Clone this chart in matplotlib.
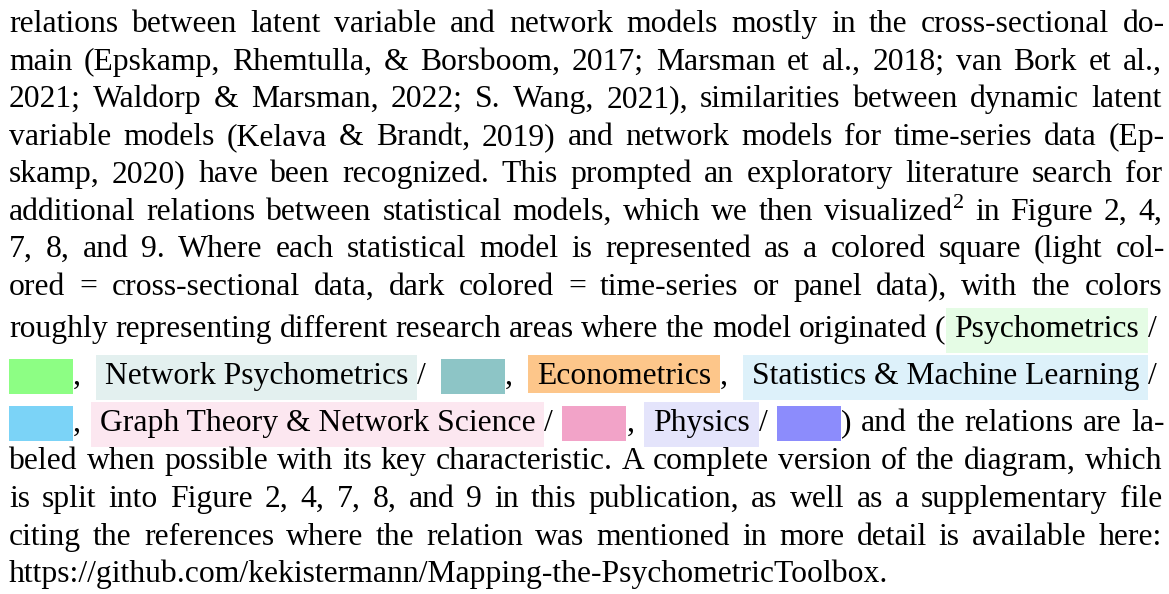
import re
import matplotlib
matplotlib.use("Agg")
import matplotlib.pyplot as plt
from matplotlib.patches import Rectangle

# --- content -------------------------------------------------------------
# {key|label} = highlighted label, {#key} = dark colour square, {^2} = superscript
LINES = [
    "relations between latent variable and network models mostly in the cross-sectional do-",
    "main (Epskamp, Rhemtulla, & Borsboom, 2017; Marsman et al., 2018; van Bork et al.,",
    "2021; Waldorp & Marsman, 2022; S. Wang, 2021), similarities between dynamic latent",
    "variable models (Kelava & Brandt, 2019) and network models for time-series data (Ep-",
    "skamp, 2020) have been recognized. This prompted an exploratory literature search for",
    "additional relations between statistical models, which we then visualized{^2} in Figure 2, 4,",
    "7, 8, and 9. Where each statistical model is represented as a colored square (light col-",
    "ored = cross-sectional data, dark colored = time-series or panel data), with the colors",
    "roughly representing different research areas where the model originated ({psy|Psychometrics}/",
    "{#psy}, {np|Network Psychometrics}/ {#np}, {eco|Econometrics}, {stat|Statistics & Machine Learning}/",
    "{#stat}, {gt|Graph Theory & Network Science}/ {#gt}, {phys|Physics}/ {#phys}) and the relations are la-",
    "beled when possible with its key characteristic. A complete version of the diagram, which",
    "is split into Figure 2, 4, 7, 8, and 9 in this publication, as well as a supplementary file",
    "citing the references where the relation was mentioned in more detail is available here:",
    "https://github.com/kekistermann/Mapping-the-PsychometricToolbox.",
]

# light (label background) and dark (square) colours per research area
LIGHT = {"psy": "#e5fce5", "np": "#e3f0ef", "eco": "#fdc68a", "stat": "#ddf1fa",
         "gt": "#fce7f0", "phys": "#e4e4fb"}
DARK = {"psy": "#8dfe84", "np": "#8dc5c6", "stat": "#7bd3f7", "gt": "#f2a3c8",
        "phys": "#8c8cfc"}

# --- layout --------------------------------------------------------------
W, H = 1169, 594
FONT = "Liberation Serif"
SIZE = 22.8
LEFT, RIGHT = 9, 1162
BASELINES = [32, 70, 107, 145, 182, 220, 257, 295, 337, 384, 431, 469, 507, 545, 582]
PAD = 9
SQ_W, SQ_H = 64, 35

fig = plt.figure(figsize=(W / 100, H / 100), dpi=100)
ax = fig.add_axes([0, 0, 1, 1])
ax.set_xlim(0, W)
ax.set_ylim(H, 0)
ax.axis("off")
renderer = fig.canvas.get_renderer()


def text_width(s, size=SIZE):
    t = ax.text(0, 0, s, fontsize=size, family=FONT)
    w = t.get_window_extent(renderer).width
    t.remove()
    return w


def split_words(line):
    words, cur, depth = [], "", 0
    for ch in line:
        if ch == "{":
            depth += 1
        elif ch == "}":
            depth -= 1
        if ch == " " and depth == 0:
            words.append(cur)
            cur = ""
        else:
            cur += ch
    words.append(cur)
    return words


def pieces(word):
    out = []
    for tok in re.findall(r"\{[^}]*\}|[^{]+", word):
        if tok.startswith("{#"):
            out.append(("sq", tok[2:-1]))
        elif tok.startswith("{^"):
            out.append(("sup", tok[2:-1]))
        elif tok.startswith("{"):
            key, label = tok[1:-1].split("|")
            out.append(("box", key, label))
        else:
            out.append(("txt", tok))
    return out


def piece_width(p):
    if p[0] == "txt":
        return text_width(p[1])
    if p[0] == "sup":
        return text_width(p[1], SIZE * 0.7) + 1
    if p[0] == "sq":
        return SQ_W
    return text_width(p[2]) + 2 * PAD


for i, line in enumerate(LINES):
    y = BASELINES[i]
    words = [pieces(w) for w in split_words(line)]
    widths = [sum(piece_width(p) for p in w) for w in words]
    last = i == len(LINES) - 1
    right = RIGHT
    if line.endswith("-"):
        right += 3
    if line.endswith("}/"):
        right -= 5
    if last or len(words) == 1:
        gap = text_width("a b") - text_width("ab")
    else:
        gap = (right - LEFT - sum(widths)) / (len(words) - 1)

    x = LEFT
    for w, ww in zip(words, widths):
        for p in w:
            pw = piece_width(p)
            if p[0] == "txt":
                ax.text(x, y, p[1], fontsize=SIZE, family=FONT, va="baseline",
                        color="black", zorder=3)
            elif p[0] == "sup":
                ax.text(x + 1, y - 12, p[1], fontsize=SIZE * 0.7, family=FONT,
                        va="baseline", color="black", zorder=3)
            elif p[0] == "sq":
                ax.add_patch(Rectangle((x, y - 25), SQ_W, SQ_H, facecolor=DARK[p[1]],
                                       edgecolor="none", zorder=1))
            else:
                key, label = p[1], p[2]
                depth = 16 if re.search(r"[gjpqy]", label) else 9
                ax.add_patch(Rectangle((x, y - 29), pw, 29 + depth,
                                       facecolor=LIGHT[key], edgecolor="none", zorder=1))
                ax.text(x + PAD, y, label, fontsize=SIZE, family=FONT, va="baseline",
                        color="black", zorder=3)
            x += pw
        x += gap

fig.savefig("out.png", dpi=100, facecolor="white")
